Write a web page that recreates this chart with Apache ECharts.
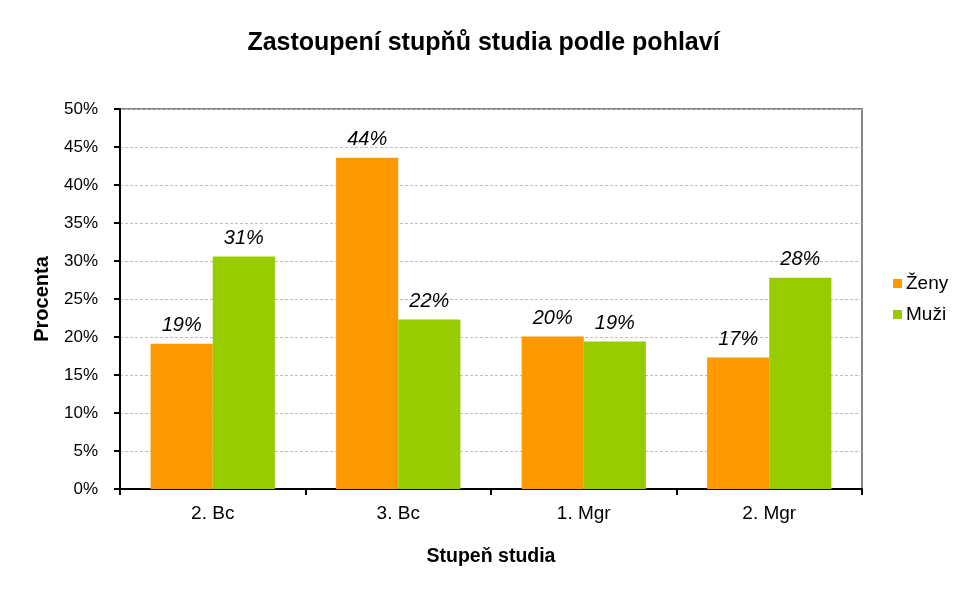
<!DOCTYPE html>
<html>
<head>
<meta charset="utf-8">
<script src="https://cdn.jsdelivr.net/npm/echarts@6/dist/echarts.min.js"></script>
<style>html,body{margin:0;padding:0;background:#fff}#c{width:967px;height:597px}</style>
</head>
<body>
<div id="c"></div>
<script>
const categories = ['2. Bc', '3. Bc', '1. Mgr', '2. Mgr'];
const zeny = [19.1, 43.6, 20.05, 17.3];
const muzi = [30.6, 22.3, 19.4, 27.8];
const seriesNames = ['Ženy', 'Muži'];
const font = '"Liberation Sans", Arial, sans-serif';

const chart = echarts.init(document.getElementById('c'), null, {renderer: 'canvas'});
const labelCfg = {
  show: true, position: 'top', distance: 8,
  fontFamily: font, fontSize: 20, fontStyle: 'italic', color: '#000',
  formatter: p => Math.round(p.value) + '%'
};
chart.setOption({
  animation: false,
  backgroundColor: '#fff',
  title: {
    text: 'Zastoupení stupňů studia podle pohlaví',
    left: 'center', top: 26,
    textStyle: {fontFamily: font, fontSize: 25, fontWeight: 'bold', color: '#000'}
  },
  grid: {left: 120, right: 105, top: 109, bottom: 108, show: true, borderColor: '#868686', borderWidth: 2},
  legend: {
    orient: 'vertical', left: 888, top: 269, itemWidth: 9, itemHeight: 9, itemGap: 12,
    icon: 'rect',
    textStyle: {fontFamily: font, fontSize: 19, color: '#000', padding: [0, 0, 0, -1]},
    data: seriesNames
  },
  xAxis: {
    type: 'category', data: categories,
    name: 'Stupeň studia', nameLocation: 'middle', nameGap: 58,
    nameTextStyle: {fontFamily: font, fontSize: 19.5, fontWeight: 'bold', color: '#000'},
    axisLine: {lineStyle: {color: '#000', width: 2}},
    axisTick: {show: true, length: 6, lineStyle: {color: '#000', width: 2}},
    axisLabel: {fontFamily: font, fontSize: 19, color: '#000', margin: 15}
  },
  yAxis: {
    type: 'value', min: 0, max: 50, interval: 5,
    name: 'Procenta', nameLocation: 'middle', nameGap: 68,
    nameTextStyle: {fontFamily: font, fontSize: 20, fontWeight: 'bold', color: '#000'},
    axisLine: {show: true, lineStyle: {color: '#000', width: 2}},
    axisTick: {show: true, length: 6, lineStyle: {color: '#000', width: 2}},
    axisLabel: {fontFamily: font, fontSize: 17, color: '#000', margin: 22, formatter: v => v + '%'},
    splitLine: {show: true, lineStyle: {color: '#bdbdbd', type: [3, 2], width: 1}}
  },
  series: [
    {name: seriesNames[0], type: 'bar', data: zeny, barGap: '0%', barCategoryGap: '33%',
      itemStyle: {color: '#ff9900'}, label: labelCfg},
    {name: seriesNames[1], type: 'bar', data: muzi, barGap: '0%', barCategoryGap: '33%',
      itemStyle: {color: '#99cc00'}, label: labelCfg}
  ]
});
</script>
</body>
</html>
